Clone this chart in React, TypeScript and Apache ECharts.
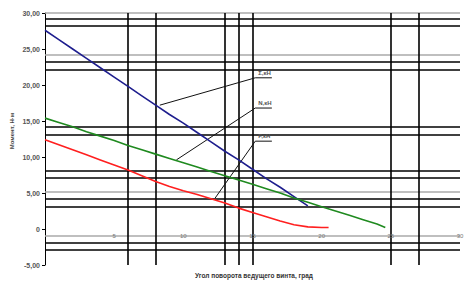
import React, { useEffect, useRef } from "react";
import * as echarts from "echarts";

const xTicks = [5, 10, 15, 20, 25, 30];
const yTicks = [-5, 0, 5, 10, 15, 20, 25, 30];

const blueX = [0, 1, 2, 3, 4, 5, 6, 7, 8, 9, 10, 11, 12, 13, 14, 15, 16, 17, 18, 19];
const blueY = [27.6, 26.3, 25.0, 23.7, 22.4, 21.1, 19.8, 18.5, 17.2, 15.9, 14.7, 13.4, 12.1, 10.8, 9.6, 8.3, 7.0, 5.8, 4.5, 3.2];

const greenX = [0, 1, 2, 3, 4, 5, 6, 7, 8, 9, 10, 11, 12, 13, 14, 15, 16, 17, 18, 19, 20, 21, 22, 23, 24, 24.6];
const greenY = [15.4, 14.8, 14.2, 13.5, 12.9, 12.3, 11.6, 11.0, 10.4, 9.8, 9.2, 8.6, 8.0, 7.4, 6.8, 6.2, 5.6, 5.0, 4.3, 3.7, 3.1, 2.5, 1.9, 1.3, 0.7, 0.2];

const redX = [0, 1, 2, 3, 4, 5, 6, 7, 8, 9, 10, 11, 12, 13, 14, 15, 16, 17, 18, 19, 20, 20.5];
const redY = [12.4, 11.7, 11.0, 10.3, 9.6, 8.9, 8.2, 7.4, 6.6, 5.9, 5.3, 4.8, 4.2, 3.6, 2.9, 2.3, 1.7, 1.1, 0.6, 0.3, 0.2, 0.2];

const seriesNames = ["Σ,кН", "N,кН", "F,кН"];
const xTitle = "Угол поворота ведущего винта, град";
const yTitle = "Момент, Н·м";
// leader lines: [start on curve, label elbow, underline end]
const leaderBlue = [[8.3, 17.2], [15.2, 21.0], [16.4, 21.0]];
const leaderGreen = [[9.5, 9.6], [15.2, 16.8], [16.4, 16.8]];
const leaderRed = [[12.3, 4.3], [15.2, 12.2], [16.4, 12.2]];
const leaders = [leaderBlue, leaderGreen, leaderRed];

// scan-artifact rules in the reference
const hBlack = [29.17, 28.19, 23.19, 22.08, 14.17, 13.06, 8.06, 7.08, 4.17, 3.06, -1.94, -2.92];
const hGray = [30, 24.17, 5.14, -0.97];
const vBlack = [6.0, 8.03, 13.02, 14.03, 15.04, 25.02, 27.04];

const zip = (xs: number[], ys: number[]) => xs.map((x, i) => [x, ys[i]]);

function leaderSeries(pts: number[][]) {
  return {
    type: "line",
    silent: true,
    symbol: "none",
    lineStyle: { color: "#111", width: 1 },
    z: 3,
    data: pts,
  };
}

const font = "Arial, Liberation Sans, sans-serif";

export default function App() {
  const ref = useRef<HTMLDivElement>(null);
  useEffect(() => {
    if (!ref.current) return;
    const chart = echarts.init(ref.current, null, { renderer: "svg" });
    const markLines = [
      ...hBlack.map((v) => ({ yAxis: v, lineStyle: { color: "#000", width: 1.6, type: "solid" } })),
      ...hGray.map((v) => ({ yAxis: v, lineStyle: { color: "#aaa", width: 1.6, type: "solid" } })),
      ...vBlack.map((v) => ({ xAxis: v, lineStyle: { color: "#000", width: 1.6, type: "solid" } })),
    ];
    chart.setOption({
      animation: false,
      backgroundColor: "#fff",
      grid: { left: 45, right: 13, top: 13, bottom: 24, containLabel: false, outerBoundsMode: "none" },
      xAxis: {
        type: "value",
        min: 0,
        max: 30,
        interval: 5,
        axisLine: { show: false },
        axisTick: { show: false },
        splitLine: { show: false },
        axisLabel: { show: false },
      },
      yAxis: {
        type: "value",
        min: -5,
        max: 30,
        interval: 5,
        axisLine: { show: true, lineStyle: { color: "#000", width: 1 } },
        axisTick: { show: true, length: 3, lineStyle: { color: "#000" } },
        splitLine: { show: false },
        axisLabel: {
          fontSize: 7,
          fontWeight: "bold",
          color: "#555",
          margin: 5,
          fontFamily: font,
          formatter: (v: number) => (v === 0 ? "0" : v.toFixed(2).replace(".", ",")),
        },
      },
      series: [
        {
          type: "line",
          name: seriesNames[0],
          data: zip(blueX, blueY),
          symbol: "none",
          lineStyle: { color: "#1e1e8e", width: 1.6 },
          z: 4,
          markLine: {
            silent: true,
            symbol: ["none", "none"],
            label: { show: false },
            data: markLines,
            z: 2,
          },
        },
        {
          type: "line",
          name: seriesNames[1],
          data: zip(greenX, greenY),
          symbol: "none",
          lineStyle: { color: "#1f8a1f", width: 1.6 },
          z: 4,
        },
        {
          type: "line",
          name: seriesNames[2],
          data: zip(redX, redY),
          symbol: "none",
          lineStyle: { color: "#ff1f1f", width: 1.6 },
          z: 4,
        },
        ...leaders.map((l) => leaderSeries(l)),
      ],
    });
    const labelTexts = leaders.map((l, i) => {
      const p = chart.convertToPixel({ gridIndex: 0 }, l[1]) as number[];
      return {
        type: "text",
        x: p[0] + 3,
        y: p[1] - 2,
        z: 10,
        style: {
          text: seriesNames[i],
          fontSize: 6,
          fontWeight: "bold",
          fill: "#555",
          fontFamily: font,
          verticalAlign: "bottom",
        },
      };
    });
    const xLabelTexts = xTicks.map((v) => {
      const p = chart.convertToPixel({ gridIndex: 0 }, [v, 0]) as number[];
      return {
        type: "text",
        x: p[0],
        y: p[1] + 4,
        z: 10,
        style: {
          text: String(v),
          fontSize: 6,
          fill: "#777",
          fontFamily: font,
          align: "center",
          verticalAlign: "top",
        },
      };
    });
    chart.setOption({
      graphic: [
        ...labelTexts,
        ...xLabelTexts,
        {
          type: "text",
          x: 254,
          y: 275,
          style: {
            text: xTitle,
            fontSize: 6.5,
            fontWeight: "bold",
            fill: "#333",
            fontFamily: font,
            align: "center",
            verticalAlign: "middle",
          },
        },
        {
          type: "text",
          x: 12,
          y: 131,
          rotation: Math.PI / 2,
          style: {
            text: yTitle,
            fontSize: 6,
            fontWeight: "bold",
            fill: "#444",
            fontFamily: font,
            align: "center",
            verticalAlign: "middle",
          },
        },
      ],
    });
    return () => chart.dispose();
  }, []);
  return <div ref={ref} style={{ width: 473, height: 289, position: "absolute", left: 0, top: 0 }} />;
}
